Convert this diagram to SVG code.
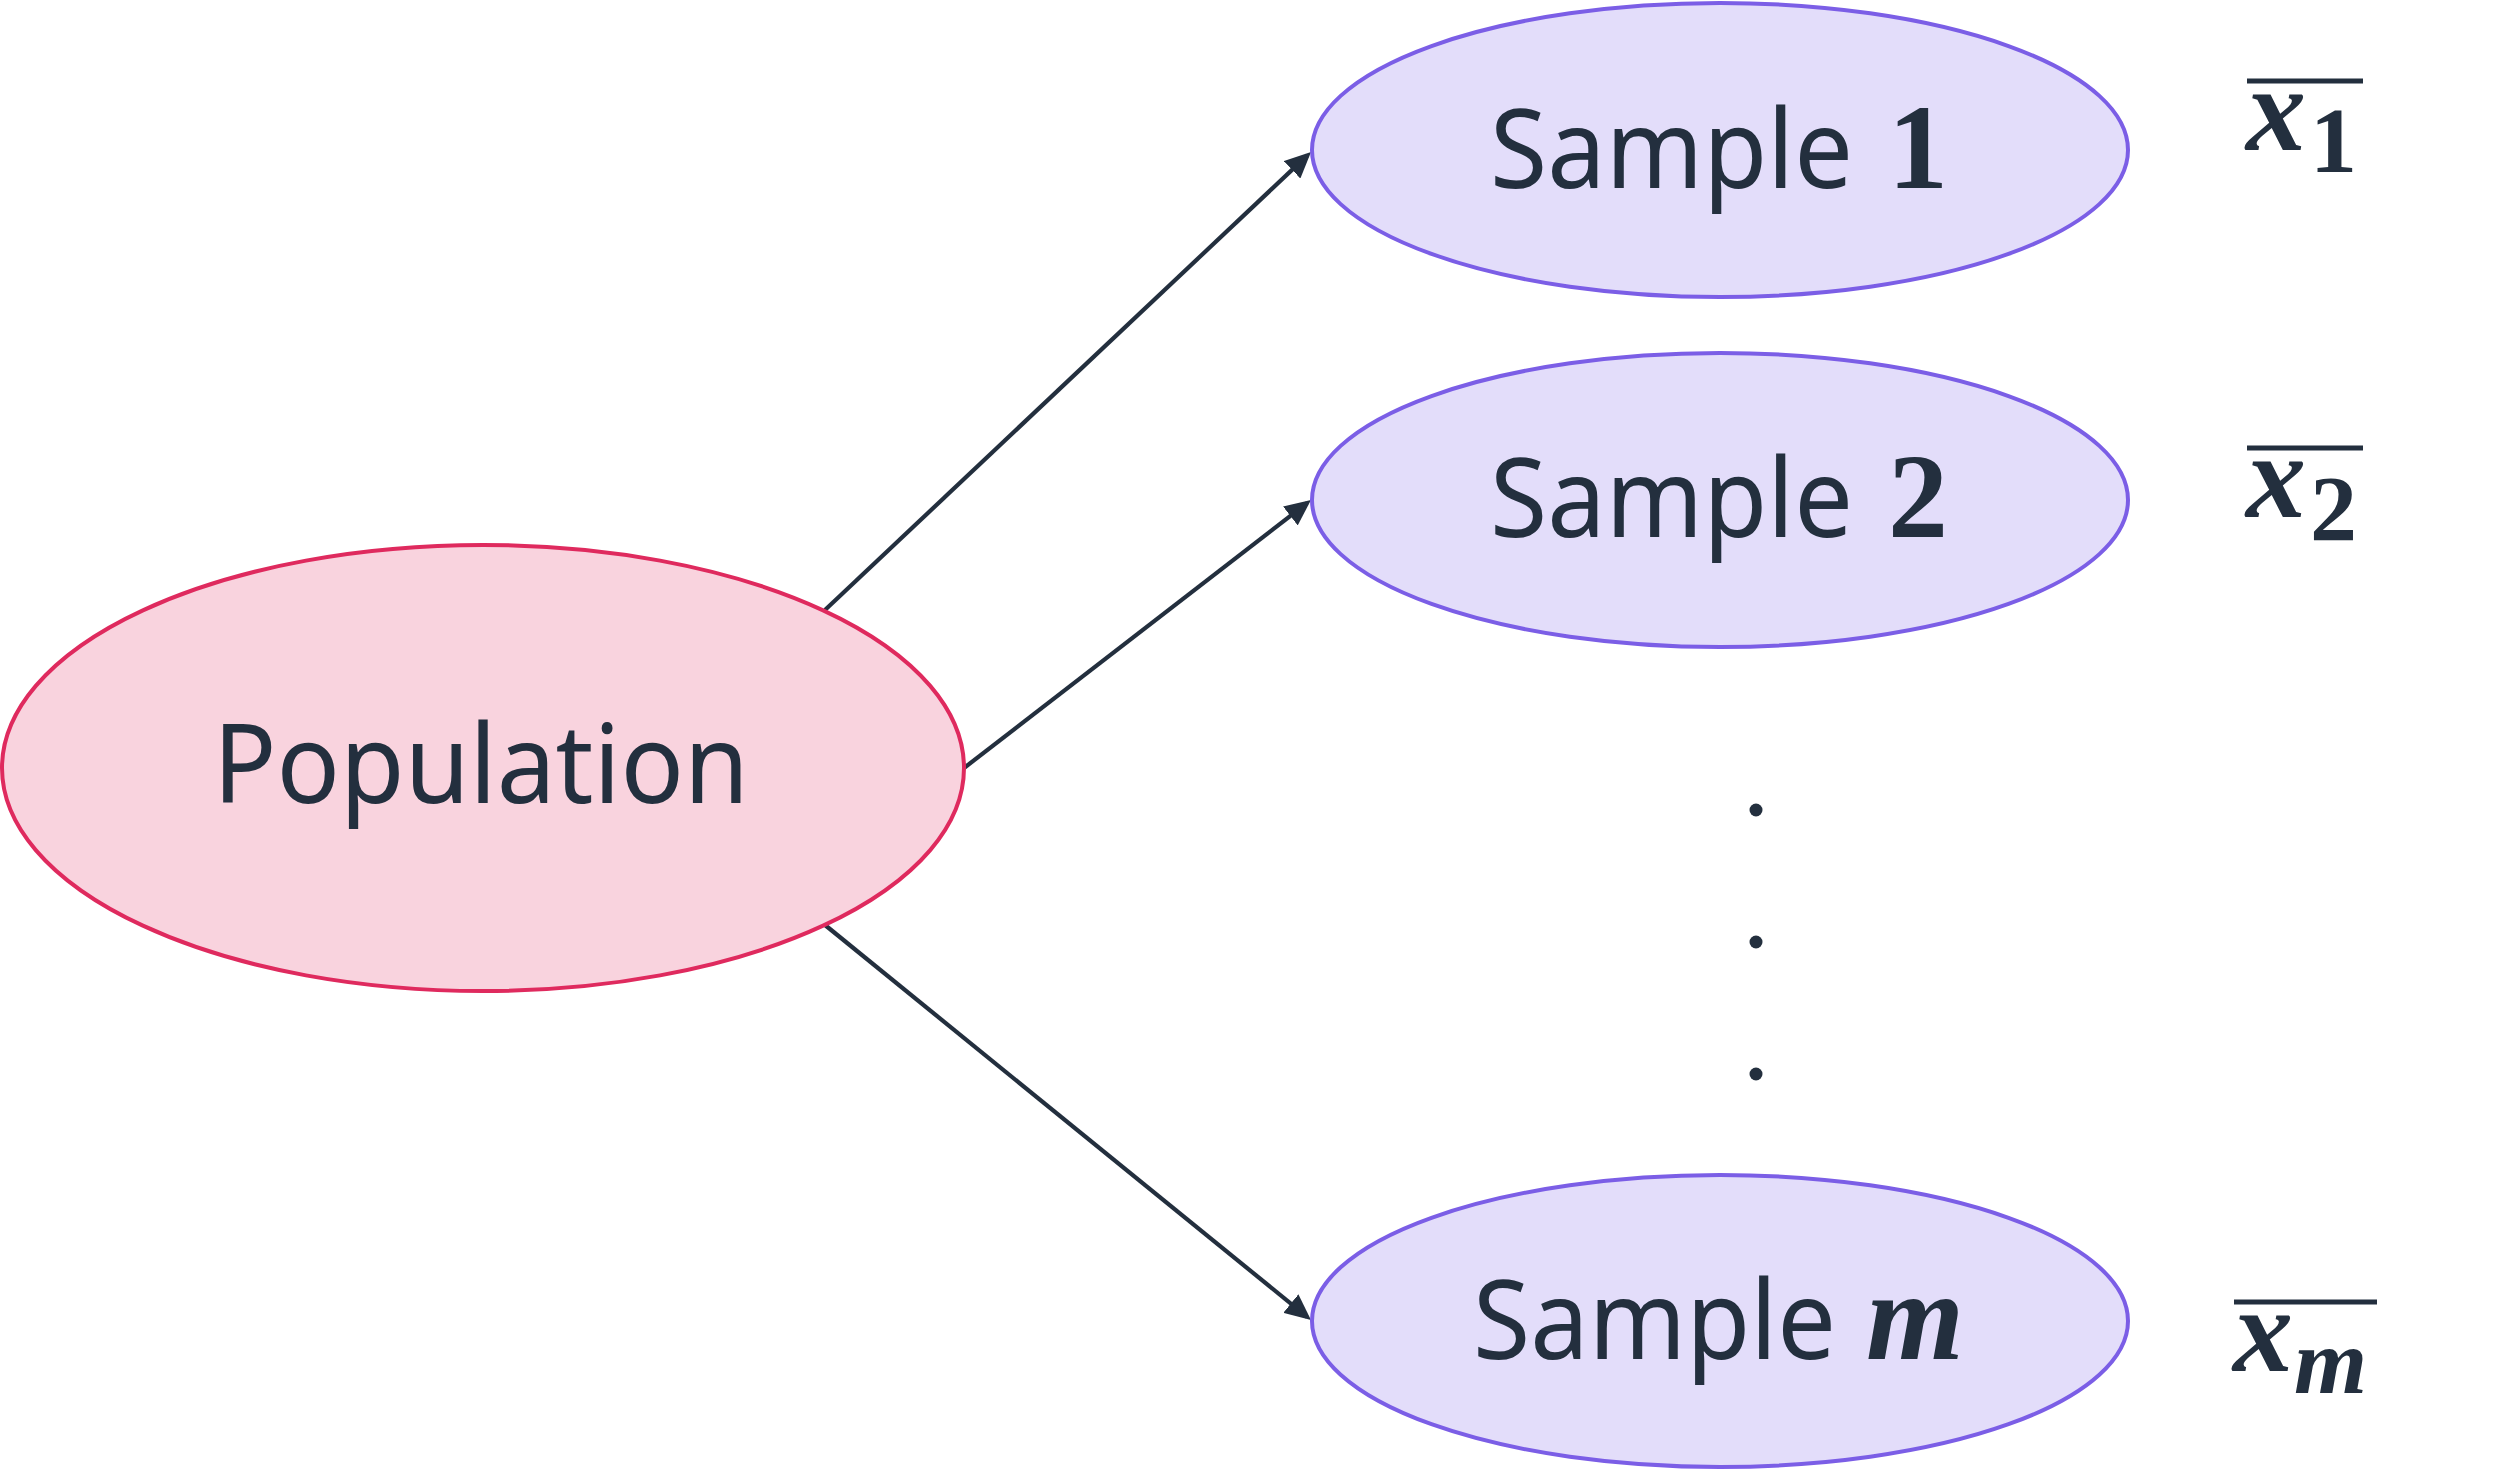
<svg xmlns="http://www.w3.org/2000/svg" width="2511" height="1471" viewBox="0 0 2511 1471">
<style>
.pop{fill:#f9d3de;stroke:#df2a5e;stroke-width:4}
.smp{fill:#e3ddfa;stroke:#7b5ee6;stroke-width:4}
.lbl{font-family:"Noto Sans","Open Sans",sans-serif;font-size:110px;fill:#232f3e}
.num{font-family:"Liberation Serif",serif;font-weight:bold;fill:#232f3e}
.var{font-family:"Liberation Serif",serif;font-weight:bold;font-style:italic;fill:#232f3e}
.edge{stroke:#232f3e;stroke-width:4.2;fill:none}
.bar{stroke:#232f3e;stroke-width:5}
.dot{fill:#232f3e}
</style>
<defs>
<marker id="arr" viewBox="0 0 26 24" refX="21" refY="12" markerWidth="26" markerHeight="24" markerUnits="userSpaceOnUse" orient="auto">
<path d="M0,0 L26,12 L0,24 z" fill="#232f3e"/>
</marker>
</defs>
<rect width="2511" height="1471" fill="#ffffff"/>
<g id="connectors">
<line class="edge" x1="825" y1="610" x2="1307.4" y2="155.4" marker-end="url(#arr)"/>
<line class="edge" x1="964" y1="768" x2="1307" y2="503.1" marker-end="url(#arr)"/>
<line class="edge" x1="825" y1="925" x2="1307.1" y2="1316.8" marker-end="url(#arr)"/>
</g>
<g id="population">
<ellipse class="pop" cx="483" cy="768" rx="481" ry="223"/>
<text class="lbl" x="481" y="803" text-anchor="middle" textLength="536" lengthAdjust="spacingAndGlyphs">Population</text>
</g>
<g id="sample1">
<ellipse class="smp" cx="1720" cy="150" rx="408" ry="147"/>
<text class="lbl" x="1490" y="188" textLength="363" lengthAdjust="spacingAndGlyphs">Sample</text>
<text class="num" x="1888" y="188" style="font-size:120px">1</text>
</g>
<g id="sample2">
<ellipse class="smp" cx="1720" cy="500" rx="408" ry="147"/>
<text class="lbl" x="1490" y="537" textLength="363" lengthAdjust="spacingAndGlyphs">Sample</text>
<text class="num" x="1888" y="537" style="font-size:120px">2</text>
</g>
<g id="samplem">
<ellipse class="smp" cx="1720" cy="1321" rx="408" ry="146"/>
<text class="lbl" x="1473" y="1359" textLength="363" lengthAdjust="spacingAndGlyphs">Sample</text>
<text class="var" x="1866" y="1359" style="font-size:126px">m</text>
</g>
<g id="dots">
<circle class="dot" cx="1756" cy="810" r="6.5"/>
<circle class="dot" cx="1756" cy="942" r="6.5"/>
<circle class="dot" cx="1756" cy="1074" r="6.5"/>
</g>
<g id="mean1">
<line class="bar" x1="2247" y1="81" x2="2363" y2="81"/>
<text class="var" x="2246" y="150" style="font-size:120px">x</text>
<text class="num" x="2310" y="172" style="font-size:94px">1</text>
</g>
<g id="mean2">
<line class="bar" x1="2247" y1="448" x2="2363" y2="448"/>
<text class="var" x="2246" y="517" style="font-size:120px">x</text>
<text class="num" x="2310" y="540" style="font-size:94px">2</text>
</g>
<g id="meanm">
<line class="bar" x1="2234" y1="1302" x2="2377" y2="1302"/>
<text class="var" x="2233" y="1371" style="font-size:120px">x</text>
<text class="var" x="2294" y="1393" style="font-size:94px">m</text>
</g>
</svg>
